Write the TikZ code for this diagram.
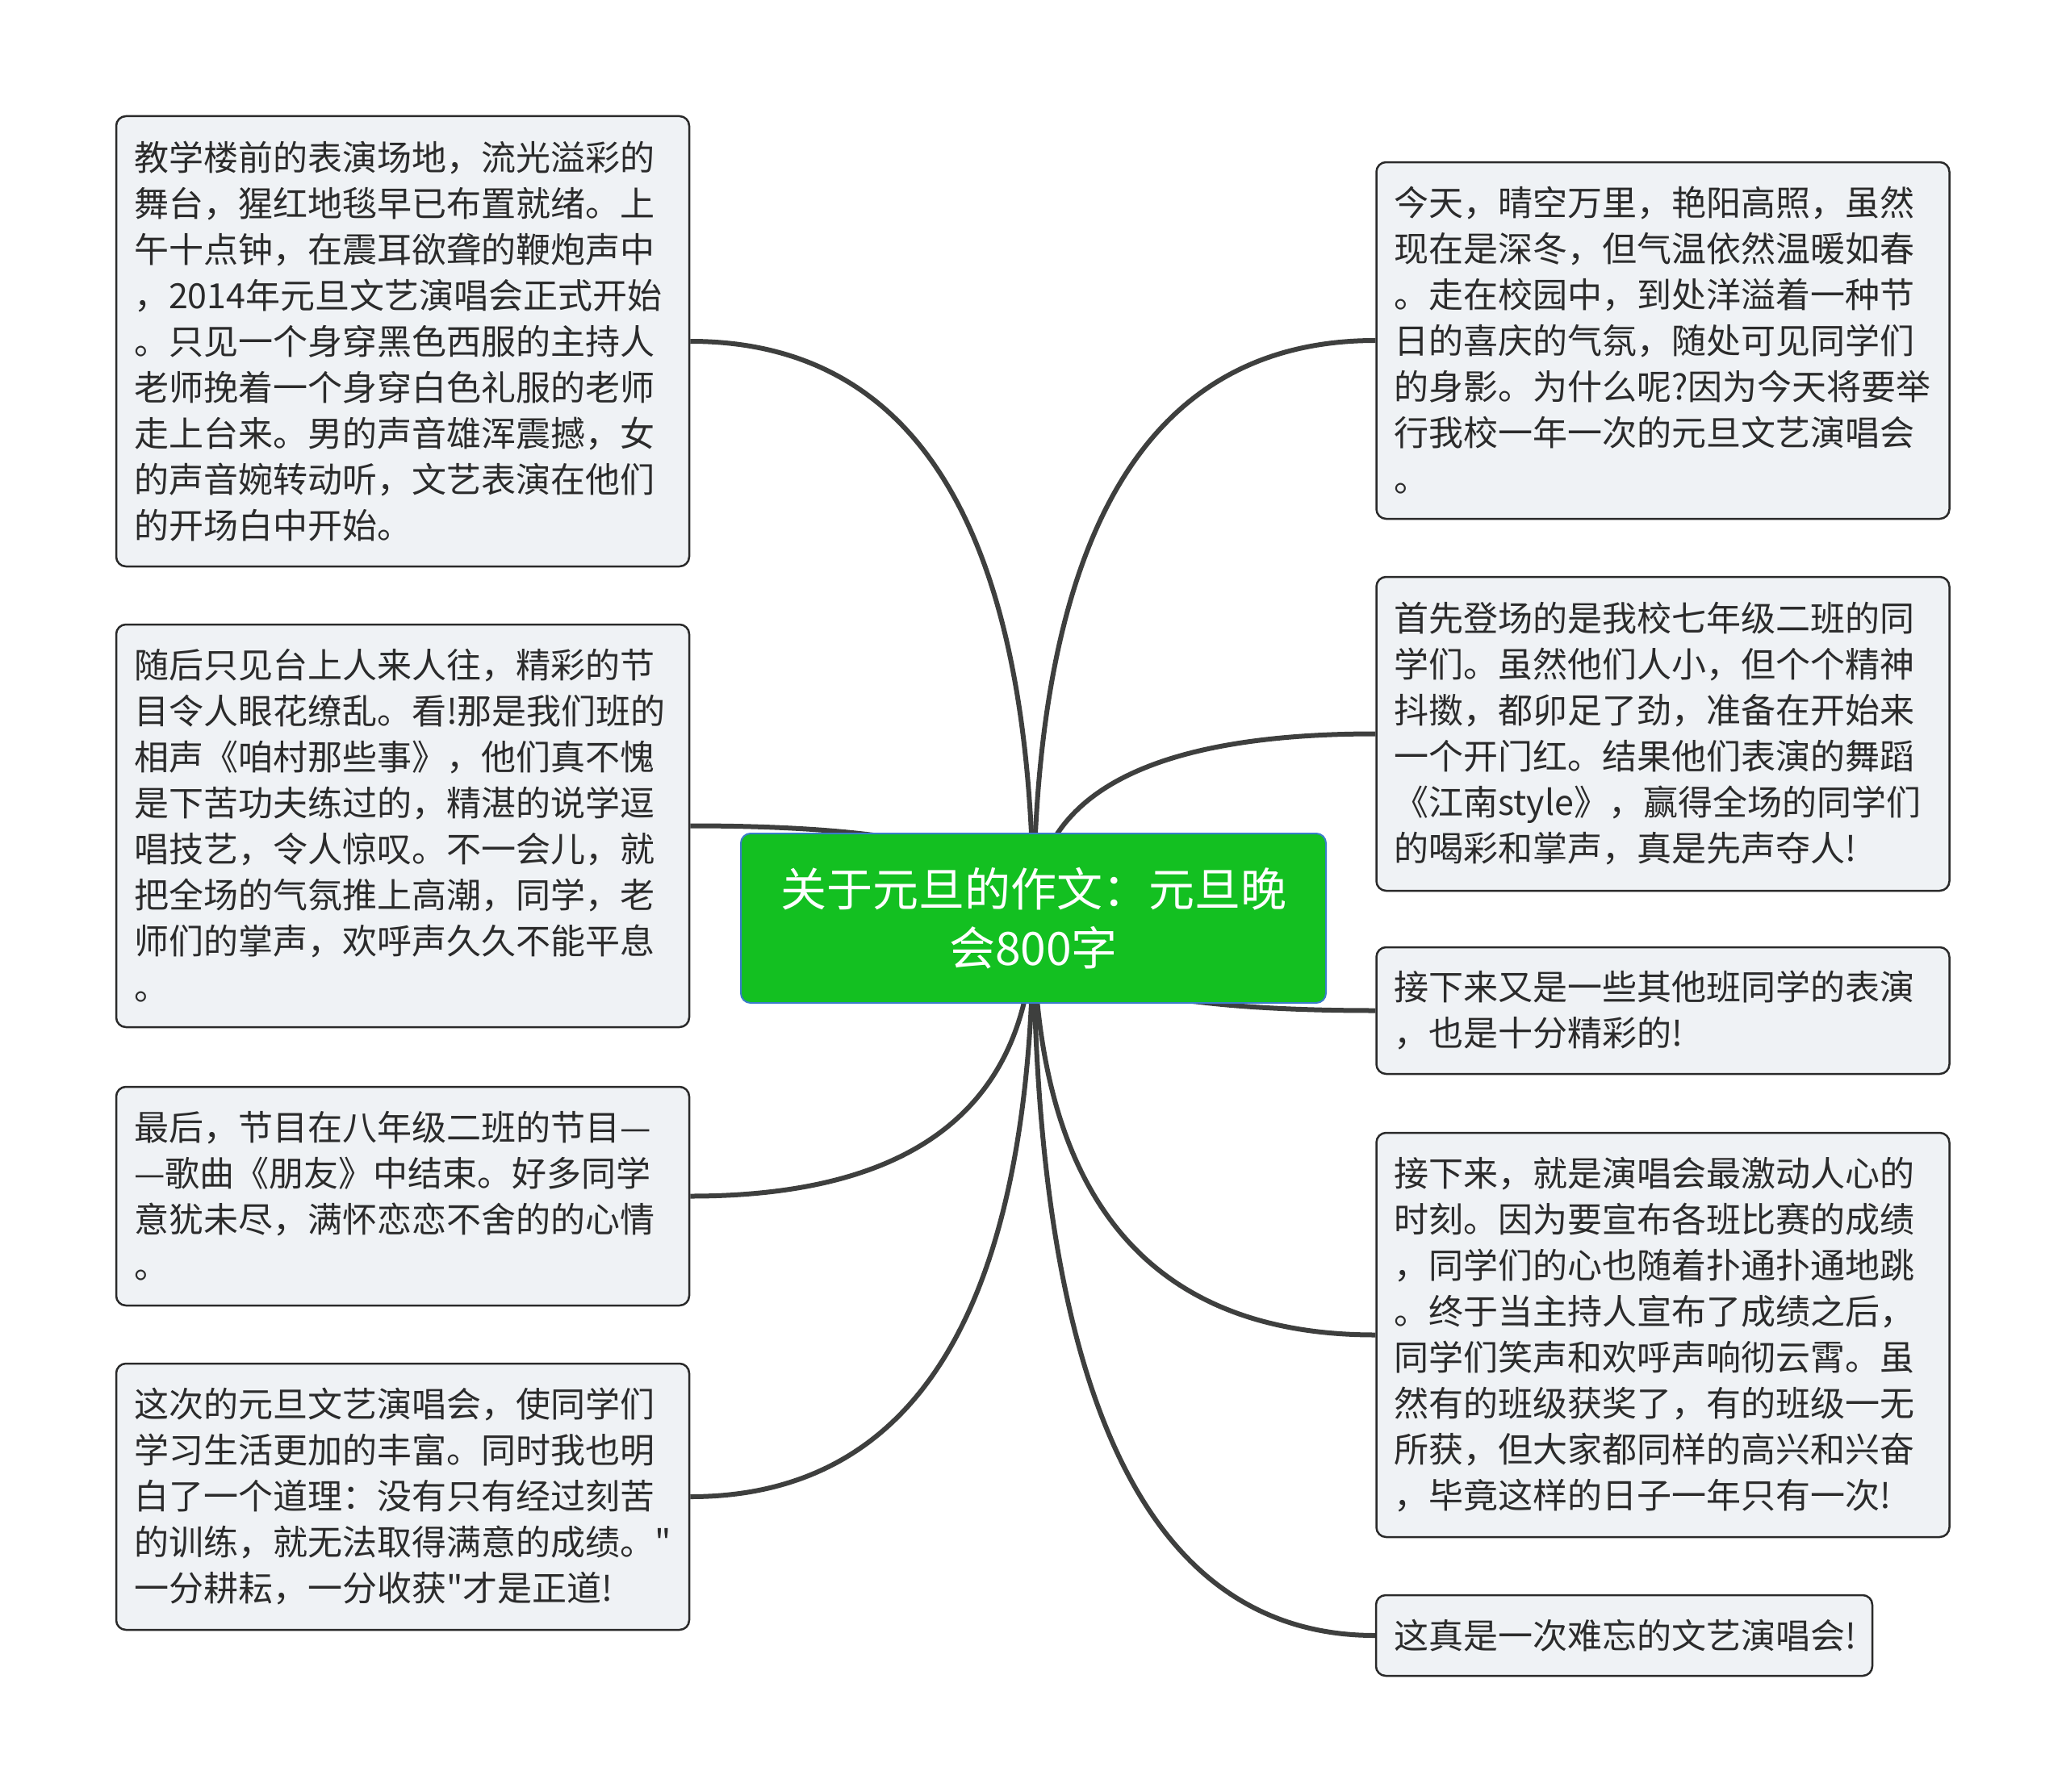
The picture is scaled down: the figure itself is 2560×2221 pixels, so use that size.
\documentclass[tikz,border=0pt]{standalone}
\usepackage{fontspec}
\newfontfamily\cjk{Noto Sans CJK SC}
\usetikzlibrary{calc,backgrounds}
\definecolor{boxfill}{HTML}{EFF2F5}
\definecolor{boxline}{HTML}{2A2A2A}
\definecolor{txt}{HTML}{2B2B2B}
\definecolor{conncol}{HTML}{3E3F3E}
\definecolor{rootfill}{HTML}{13C021}
\definecolor{rootline}{HTML}{3A7DC9}
\begin{document}
\begin{tikzpicture}[x=1pt,y=-1pt,
  leaf/.style={draw=boxline, line width=2.5pt, fill=boxfill, rounded corners=12pt,
    font=\cjk\fontsize{43}{57}\selectfont, text=txt, align=left,
    inner xsep=22pt, inner ysep=0pt, text width=666pt, minimum width=710pt},
  rootbox/.style={draw=rootline, line width=2pt, fill=rootfill, rounded corners=12pt,
    font=\cjk\fontsize{57}{73}\selectfont, text=white, align=center,
    minimum width=725pt, minimum height=210pt, inner sep=0pt},
  conn/.style={draw=conncol, line width=6pt}
]
\useasboundingbox (0,0) rectangle (2560,2221);

\node[rootbox] (c) at (1280.5,1138) {关于元旦的作文：元旦晚\\会800字};

\node[leaf, minimum height=558pt] (L1) at (499,423) {教学楼前的表演场地，流光溢彩的\\
舞台，猩红地毯早已布置就绪。上\\
午十点钟，在震耳欲聋的鞭炮声中\\
，2014年元旦文艺演唱会正式开始\\
。只见一个身穿黑色西服的主持人\\
老师挽着一个身穿白色礼服的老师\\
走上台来。男的声音雄浑震撼，女\\
的声音婉转动听，文艺表演在他们\\
的开场白中开始。};

\node[leaf, minimum height=499pt] (L2) at (499,1023.5) {随后只见台上人来人往，精彩的节\\
目令人眼花缭乱。看!那是我们班的\\
相声《咱村那些事》，他们真不愧\\
是下苦功夫练过的，精湛的说学逗\\
唱技艺，令人惊叹。不一会儿，就\\
把全场的气氛推上高潮，同学，老\\
师们的掌声，欢呼声久久不能平息\\
。};

\node[leaf, minimum height=271pt] (L3) at (499,1482.5) {最后，节目在八年级二班的节目—\\
—歌曲《朋友》中结束。好多同学\\
意犹未尽，满怀恋恋不舍的的心情\\
。};

\node[leaf, minimum height=330pt] (L4) at (499,1855) {这次的元旦文艺演唱会，使同学们\\
学习生活更加的丰富。同时我也明\\
白了一个道理：没有只有经过刻苦\\
的训练，就无法取得满意的成绩。"\\
一分耕耘，一分收获"才是正道!};

\node[leaf, minimum height=442pt] (R1) at (2060.5,422) {今天，晴空万里，艳阳高照，虽然\\
现在是深冬，但气温依然温暖如春\\
。走在校园中，到处洋溢着一种节\\
日的喜庆的气氛，随处可见同学们\\
的身影。为什么呢?因为今天将要举\\
行我校一年一次的元旦文艺演唱会\\
。};

\node[leaf, minimum height=389pt] (R2) at (2060.5,909.5) {首先登场的是我校七年级二班的同\\
学们。虽然他们人小，但个个精神\\
抖擞，都卯足了劲，准备在开始来\\
一个开门红。结果他们表演的舞蹈\\
《江南style》，赢得全场的同学们\\
的喝彩和掌声，真是先声夺人!};

\node[leaf, minimum height=157pt] (R3) at (2060.5,1252.5) {接下来又是一些其他班同学的表演\\
，也是十分精彩的!};

\node[leaf, minimum height=501pt] (R4) at (2060.5,1654.5) {接下来，就是演唱会最激动人心的\\
时刻。因为要宣布各班比赛的成绩\\
，同学们的心也随着扑通扑通地跳\\
。终于当主持人宣布了成绩之后，\\
同学们笑声和欢呼声响彻云霄。虽\\
然有的班级获奖了，有的班级一无\\
所获，但大家都同样的高兴和兴奋\\
，毕竟这样的日子一年只有一次!};

\node[leaf, minimum height=100pt, text width=571pt, minimum width=615pt] (R5) at (2012.5,2027) {这真是一次难忘的文艺演唱会!};

\begin{pgfonlayer}{background}
\foreach \n in {L1,L2,L3,L4} {
  \coordinate (k\n) at (c.center |- \n.east);
  \draw[conn] (c.center) .. controls ($(c.center)!2/3!(k\n)$) and ($(\n.east)!2/3!(k\n)$) .. (\n.east);
}
\foreach \n in {R1,R2,R3,R4,R5} {
  \coordinate (k\n) at (c.center |- \n.west);
  \draw[conn] (c.center) .. controls ($(c.center)!2/3!(k\n)$) and ($(\n.west)!2/3!(k\n)$) .. (\n.west);
}
\end{pgfonlayer}
\end{tikzpicture}
\end{document}
